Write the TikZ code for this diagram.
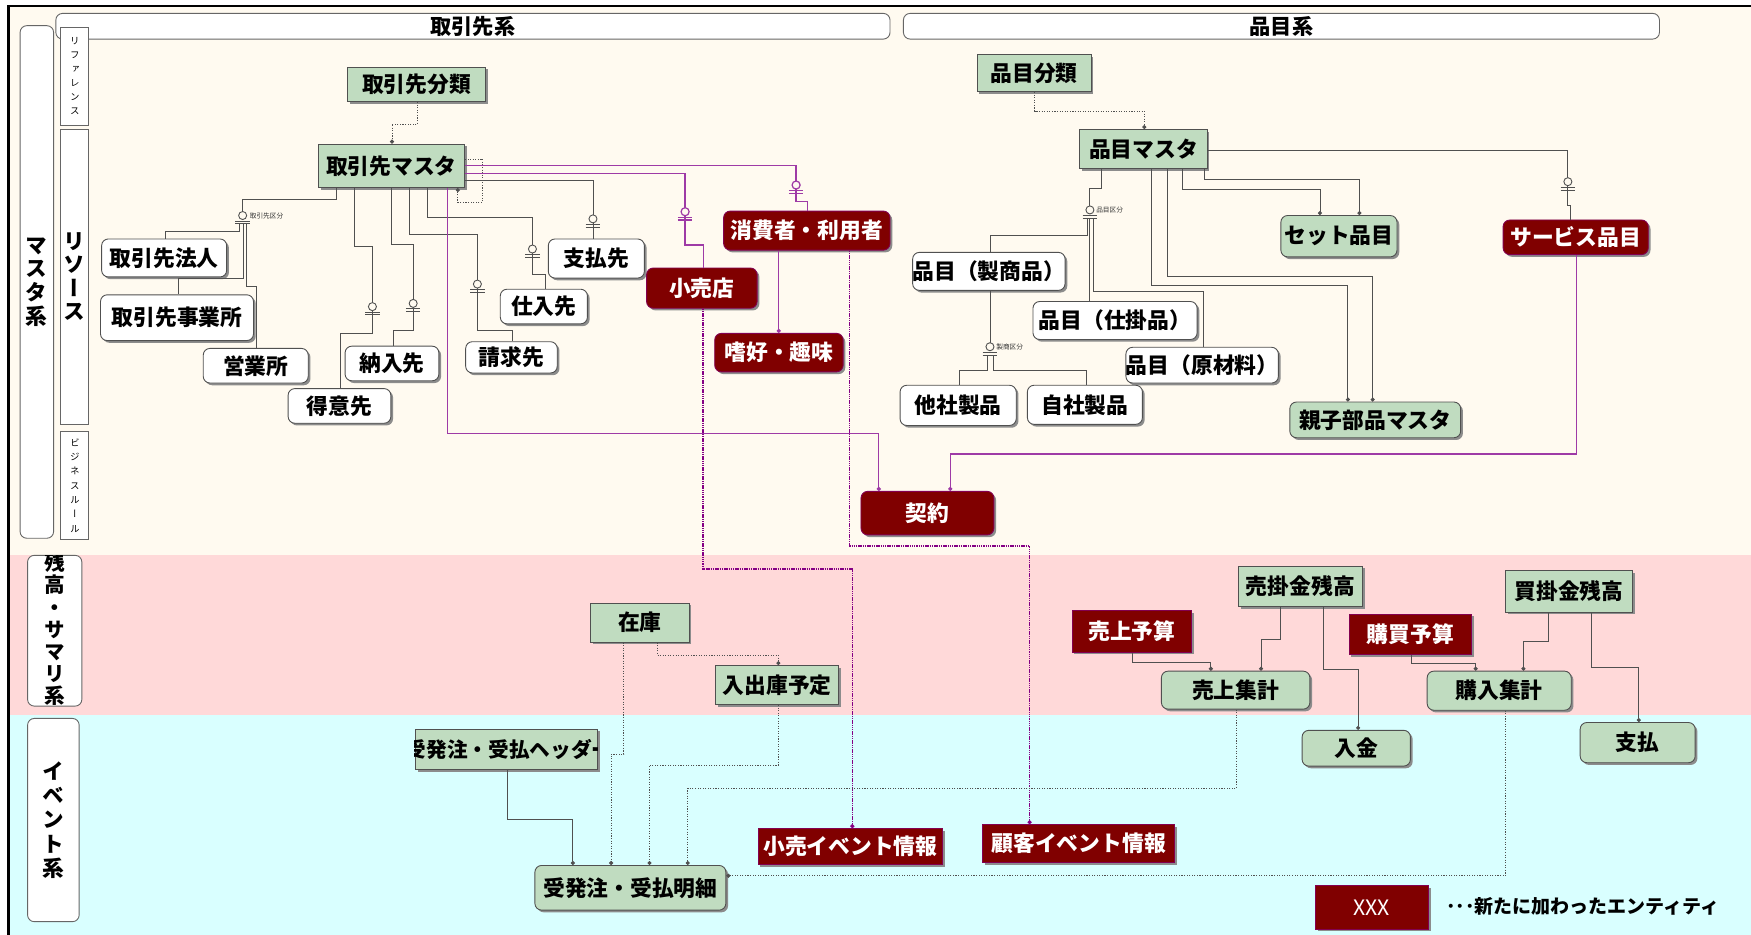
\documentclass[tikz,border=0pt]{standalone}
\usepackage{fontspec}
\setmainfont{Noto Sans CJK JP}
\newfontfamily\vjp{Noto Sans CJK JP}[RawFeature=+vert]
\usepackage{tikz}
\usetikzlibrary{arrows.meta,shadows}
\definecolor{cream}{HTML}{FFFAF0}
\definecolor{pinkband}{HTML}{FFD9D9}
\definecolor{cyanband}{HTML}{D9FFFF}
\definecolor{grnfill}{HTML}{C0DCC0}
\definecolor{maroon}{HTML}{800000}
\definecolor{purp}{HTML}{9E3AA6}
\definecolor{dpurp}{HTML}{850085}
\definecolor{edge}{HTML}{505050}
\definecolor{shade}{HTML}{8C8C8C}
\tikzset{
  sz/.style 2 args={minimum width=#1, minimum height=#2},
  ent/.style={inner sep=0pt, line width=0.8pt, font=\fontsize{19.5}{21}\selectfont\bfseries,
    drop shadow={shadow xshift=2pt, shadow yshift=-2pt, fill=shade, opacity=1}},
  grn/.style={ent, draw=edge, fill=grnfill},
  grnr/.style={grn, rounded corners=6pt},
  wht/.style={ent, draw=edge, fill=white, rounded corners=6pt},
  redq/.style={ent, draw=dpurp!60!maroon, fill=maroon, text=white},
  redr/.style={redq, rounded corners=6pt},
  hdrbox/.style={draw=gray!80!black, fill=white, rounded corners=6pt, line width=0.8pt,
    inner sep=0pt, font=\fontsize{19}{21}\selectfont\bfseries},
  sidebox/.style={draw=gray!80!black, fill=white, rounded corners=6pt, line width=0.8pt,
    inner sep=0pt, align=center},
  subbox/.style={draw=gray!80!black, fill=white, line width=0.8pt, inner sep=0pt, align=center},
  ln/.style={draw=edge, line width=0.8pt},
  pl/.style={draw=purp, line width=1.1pt},
  dl/.style={draw=edge, line width=0.8pt, dash pattern=on 1pt off 1.3pt},
  dpl/.style={draw=dpurp, line width=1.4pt, dash pattern=on 1.3pt off 0.7pt},
  enddot/.style={-{Circle[length=3.6pt, width=3.6pt]}},
  lblsm/.style={anchor=west, inner sep=0pt, text=black!80, font=\fontsize{6}{7}\selectfont},
  zo/.pic={
    \draw[pic actions, fill=cream] (0,0) circle (3.6);
    \draw[pic actions] (-6.5,4.9) -- (6.5,4.9) (-6.5,7.4) -- (6.5,7.4);
  }
}
\begin{document}
\begin{tikzpicture}[x=1pt, y=-1pt]
  \useasboundingbox (0,0) rectangle (1568,837);
  \fill[cream] (8.5,6.5) rectangle (1568,497);
  \fill[pinkband] (8.5,497) rectangle (1568,640);
  \fill[cyanband] (8.5,640) rectangle (1568,837);
  \draw[line width=2.2pt] (7.5,837) -- (7.5,5.5) -- (1568,5.5);

  \node[hdrbox, sz={747}{23}] (torihikikei) at (423.5,23.5) {取引先系};
  \node[hdrbox, sz={677}{23}] (hinmokukei) at (1147.5,23.5) {品目系};

  \node[sidebox, sz={30}{459}, font=\vjp\fontsize{19.5}{21.3}\selectfont\bfseries] (mastakei) at (33,252.5) {マ\\ス\\タ\\系};
  \node[subbox, sz={25}{87.5}, font=\vjp\fontsize{8.5}{12.6}\selectfont] (refbox) at (67,68.25) {リ\\フ\\ァ\\レ\\ン\\ス};
  \node[subbox, sz={25.5}{264.5}, font=\vjp\fontsize{19.5}{20.9}\selectfont\bfseries] (resbox) at (66.75,247.75) {リ\\ソ\\ー\\ス};
  \node[subbox, sz={25}{97.5}, font=\vjp\fontsize{8.5}{12.8}\selectfont] (rulebox) at (67,434.75) {ビ\\ジ\\ネ\\ス\\ル\\ー\\ル};
  \node[sidebox, sz={48.6}{135}] (sumbox) at (49,564.8) {};
  \begin{scope}
    \clip[rounded corners=6pt] (sumbox.south west) rectangle (sumbox.north east);
    \node[align=center, inner sep=0pt, font=\vjp\fontsize{18.5}{19.9}\selectfont\bfseries] (sumtxt) at (49.5,563.5) {残\\高\\・\\サ\\マ\\リ\\系};
  \end{scope}
  \node[sidebox, sz={46.2}{182}, font=\vjp\fontsize{19.5}{21.6}\selectfont\bfseries] (evtbox) at (47.8,734.35) {イ\\ベ\\ン\\ト\\系};

  \node[grn, sz={124}{31}] (kbunrui) at (373,75.5) {取引先分類};
  \node[grn, sz={131}{39}] (kmst) at (350.5,148.5) {取引先マスタ};
  \node[wht, sz={112}{34}] (hojin) at (147,231) {取引先法人};
  \node[wht, sz={137}{41}] (jigyo) at (158.5,284.5) {取引先事業所};
  \node[wht, sz={94}{31}] (eigyo) at (229,327.5) {営業所};
  \node[wht, sz={92}{31}] (tokui) at (304,363.5) {得意先};
  \node[wht, sz={84}{31}] (nonyu) at (351,325.5) {納入先};
  \node[wht, sz={82}{28}] (seikyu) at (458,320) {請求先};
  \node[wht, sz={78}{31}] (shiire) at (487,274.5) {仕入先};
  \node[wht, sz={86}{35}] (shiharaisaki) at (534,231.5) {支払先};
  \node[redr, sz={149}{35}] (shohi) at (722.5,206.5) {消費者・利用者};
  \node[redr, sz={99}{36}] (kouri) at (628.5,258) {小売店};
  \node[redr, sz={115}{34.5}] (shiko) at (697.5,315.75) {嗜好・趣味};

  \node[grn, sz={102}{33}] (hbunrui) at (926,65.5) {品目分類};
  \node[grn, sz={114}{35}] (hmst) at (1024,133.5) {品目マスタ};
  \node[grnr, sz={104}{37}] (setitem) at (1199,211.5) {セット品目};
  \node[redr, sz={130}{31}] (service) at (1411,212.5) {サービス品目};
  \node[wht, sz={135}{34}] (seisho) at (885.5,243) {品目（製商品）};
  \node[wht, sz={147}{34}] (shikake) at (998.5,287) {品目（仕掛品）};
  \node[wht, sz={133}{32}] (genzai) at (1076.5,327) {品目（原材料）};
  \node[wht, sz={104}{36}] (tasha) at (858,363) {他社製品};
  \node[wht, sz={103}{35}] (jisha) at (971.5,362.5) {自社製品};
  \node[grnr, sz={153}{32}] (oyako) at (1231.5,376) {親子部品マスタ};
  \node[redr, sz={119}{39}] (keiyaku) at (830.5,459.5) {契約};

  \node[grn, sz={88}{35}] (zaiko) at (573,557.5) {在庫};
  \node[grn, sz={110}{35}] (nyushuko) at (696,613.5) {入出庫予定};
  \node[redq, sz={107}{37}] (uriyosan) at (1013.5,565.5) {売上予算};
  \node[grn, sz={111}{36}] (urikake) at (1164.5,525) {売掛金残高};
  \node[grnr, sz={133}{34}] (uriage) at (1106.5,618) {売上集計};
  \node[redq, sz={110}{36}] (koyosan) at (1263,568) {購買予算};
  \node[grn, sz={114}{37}] (kaikake) at (1405,529.5) {買掛金残高};
  \node[grnr, sz={129}{35}] (konyu) at (1342.5,618.5) {購入集計};
  \node[grnr, sz={97}{32}] (nyukin) at (1214.5,670) {入金};
  \node[grnr, sz={103}{36}] (shiharai) at (1466.5,665) {支払};

  \node[grn, sz={163}{36}] (header) at (453.5,671) {};
  \begin{scope}
    \clip (header.south west) rectangle (header.north east);
    \node[font=\fontsize{18.5}{20}\selectfont\bfseries, inner sep=0pt] (headertxt) at (456,671) {受発注・受払ヘッダー};
  \end{scope}
  \node[grnr, sz={171}{40}] (meisai) at (564.5,795) {受発注・受払明細};
  \node[redq, sz={165}{32}] (kourievt) at (761.5,758) {小売イベント情報};
  \node[redq, sz={172}{34}] (kokyakuevt) at (966,755.5) {顧客イベント情報};
  \node[redq, sz={101}{39}, font=\fontsize{19}{20}\selectfont] (legendbox) at (1228.5,812.5) {XXX};
  \node[anchor=west, inner sep=0pt, font=\fontsize{17}{19}\selectfont\bfseries] (legendtxt) at (1295,811.5) {･･･新たに加わったエンティティ};

  \draw[dl, enddot] (374,0 |- kbunrui.south) |- (351,111) -- (351,0 |- kmst.north);
  \draw[dl, enddot] (kmst.east |- 0,142.4) -| (432.3,181) -| (410,0 |- kmst.south);

  \coordinate (tkb) at (217.3,193);
  \draw[ln] (301.6,0 |- kmst.south) |- (217.3,179) -- (tkb);
  \draw[ln] (tkb) ++(-2.8,7.4) |- (148,207.5) -- (148,0 |- hojin.north);
  \draw[ln] (tkb) ++(0.5,7.4) |- (160,249.5) -- (160,0 |- jigyo.north);
  \draw[ln] (tkb) ++(3.5,7.4) |- (230,256.7) -- (230,0 |- eigyo.north);
  \pic[ln] at (tkb) {zo};
  \node[lblsm] (tkblbl) at (223.5,193) {取引先区分};

  \draw[ln] (317.4,0 |- kmst.south) |- (333.5,221) |- (304.5,298.5) -- (304.5,0 |- tokui.north);
  \draw[ln] (350.2,0 |- kmst.south) |- (370,218.8) |- (352,295.5) -- (352,0 |- nonyu.north);
  \draw[ln] (366.6,0 |- kmst.south) |- (427.5,209.9) |- (459,295.5) -- (459,0 |- seikyu.north);
  \draw[ln] (383,0 |- kmst.south) |- (476.8,195) |- (488.7,245.7) -- (488.7,0 |- shiire.north);
  \draw[ln] (kmst.east |- 0,161.8) -| (531,0 |- shiharaisaki.north);
  \pic[ln] at (333.5,274.6) {zo};
  \pic[ln] at (370,271.7) {zo};
  \pic[ln] at (427.5,254.4) {zo};
  \pic[ln] at (476.8,223) {zo};
  \pic[ln] at (531,196) {zo};

  \draw[pl] (kmst.east |- 0,155.3) -| (613.5,219.4) -| (630,0 |- kouri.north);
  \draw[pl] (kmst.east |- 0,148.4) -| (712.9,180.6) -| (723.1,0 |- shohi.north);
  \pic[pl] at (613.5,189.6) {zo};
  \pic[pl] at (712.9,165.7) {zo};
  \draw[pl, enddot] (697.4,0 |- shohi.south) -- (697.4,0 |- shiko.north);
  \draw[pl, enddot] (401,0 |- kmst.south) |- (787,388) -- (787,0 |- keiyaku.north);
  \draw[pl, enddot] (1411.4,0 |- service.south) |- (851,406.6) -- (851,0 |- keiyaku.north);
  \draw[dpl, enddot] (629.6,0 |- kouri.south) |- (763.2,509.6) -- (763.2,0 |- kourievt.north);
  \draw[dpl, enddot] (760.8,0 |- shohi.south) |- (922,488.7) -- (922,0 |- kokyakuevt.north);

  \draw[dl, enddot] (926.7,0 |- hbunrui.south) |- (1024.7,99.4) -- (1024.7,0 |- hmst.north);
  \coordinate (hkb) at (976,188);
  \draw[ln] (986,0 |- hmst.south) |- (976,168.7) -- (hkb);
  \draw[ln] (hkb) ++(-2.3,7.4) |- (886.5,210.5) -- (886.5,0 |- seisho.north);
  \draw[ln] (hkb) ++(0,7.4) -- (976,0 |- shikake.north);
  \draw[ln] (hkb) ++(3,7.4) |- (1077.5,261.2) -- (1077.5,0 |- genzai.north);
  \pic[ln] at (hkb) {zo};
  \node[lblsm] (hkblbl) at (981.5,188) {品目区分};
  \coordinate (skb) at (886.5,310.5);
  \draw[ln] (886.5,0 |- seisho.south) -- (skb);
  \draw[ln] (skb) ++(-2.5,7.4) |- (859.6,331.4) -- (859.6,0 |- tasha.north);
  \draw[ln] (skb) ++(3,7.4) |- (973,332) -- (973,0 |- jisha.north);
  \pic[ln] at (skb) {zo};
  \node[lblsm] (skblbl) at (892,310.5) {製商区分};

  \draw[ln, enddot] (1030.7,0 |- hmst.south) |- (1207,255.2) -- (1207,0 |- oyako.north);
  \draw[ln, enddot] (1045.6,0 |- hmst.south) |- (1229.2,247.8) -- (1229.2,0 |- oyako.north);
  \draw[ln, enddot] (1058.6,0 |- hmst.south) |- (1182,169.6) -- (1182,0 |- setitem.north);
  \draw[ln, enddot] (1079,0 |- hmst.south) |- (1217.3,160.6) -- (1217.3,0 |- setitem.north);
  \draw[ln] (hmst.east |- 0,134.3) -| (1404,183.6) -| (1406,0 |- service.north);
  \pic[ln] at (1404,162.7) {zo};

  \draw[dl, enddot] (588.5,0 |- zaiko.south) |- (697,586.6) -- (697,0 |- nyushuko.north);
  \draw[dl, enddot] (558.6,0 |- zaiko.south) |- (547.3,675.2) -- (547.3,0 |- meisai.north);
  \draw[dl, enddot] (697,0 |- nyushuko.south) |- (581.6,685) -- (581.6,0 |- meisai.north);
  \draw[dl, enddot] (1107,0 |- uriage.south) |- (615.9,706) -- (615.9,0 |- meisai.north);
  \draw[dl, enddot] (1348.2,0 |- konyu.south) |- (meisai.east |- 0,784.2);
  \draw[ln, enddot] (454.8,0 |- header.south) |- (513,733.4) -- (513,0 |- meisai.north);

  \draw[ln, enddot] (1014,0 |- uriyosan.south) |- (1084.3,593.2) -- (1084.3,0 |- uriage.north);
  \draw[ln, enddot] (1146.7,0 |- urikake.south) |- (1129.2,573) -- (1129.2,0 |- uriage.north);
  \draw[ln, enddot] (1185,0 |- urikake.south) |- (1216.2,599.1) -- (1216.2,0 |- nyukin.north);
  \draw[ln, enddot] (1263.8,0 |- koyosan.south) |- (1321.4,594) -- (1321.4,0 |- konyu.north);
  \draw[ln, enddot] (1386.9,0 |- kaikake.south) |- (1364.2,574) -- (1364.2,0 |- konyu.north);
  \draw[ln, enddot] (1425.5,0 |- kaikake.south) |- (1467.5,598) -- (1467.5,0 |- shiharai.north);
\end{tikzpicture}
\end{document}
